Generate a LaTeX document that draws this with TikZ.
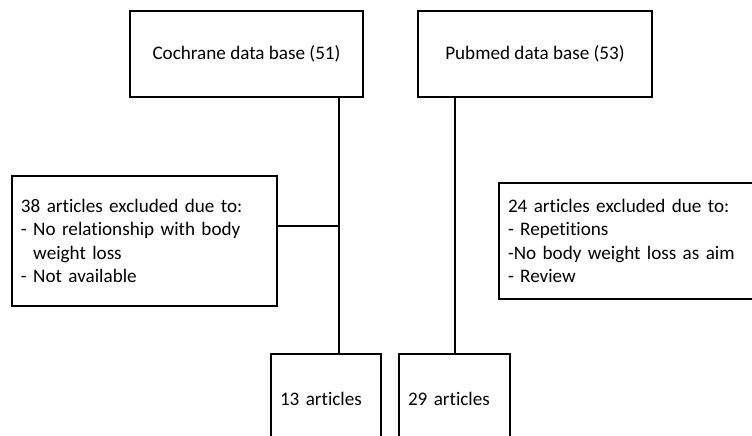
\documentclass[tikz,border=0pt]{standalone}
\usepackage{fontspec}
\setmainfont{Carlito}[Ligatures=NoCommon]
\usetikzlibrary{positioning,calc}
\begin{document}
\begin{tikzpicture}[x=1bp,y=-1bp,line width=1.5bp,
   box/.style={draw,rectangle,inner sep=0pt,font=\fontsize{19.2}{23.4}\selectfont},
   lbox/.style={box,align=left,inner xsep=9bp}]
  \useasboundingbox (0,0) rectangle (752,436);
  \clip (0,0) rectangle (752,436);
  % data bases
  \node[box,minimum width=233bp,minimum height=86bp](coch) at (246.5,54){Cochrane data base (51)};
  \node[box,minimum width=234bp,minimum height=86bp](pub) at (535,54){Pubmed data base (53)};
  % exclusions
  \node[lbox,minimum width=265bp,minimum height=130bp,text width=247bp](ex1) at (144.5,241){38 articles excluded due to:\\- No relationship with body\\\hphantom{- }weight loss\\- Not available};
  \node[lbox,minimum width=291bp,minimum height=116bp,text width=273bp](ex2) at (644.5,241){24 articles excluded due to:\\- Repetitions\\-No body weight loss as aim\\- Review};
  % results
  \node[lbox,minimum width=110bp,minimum height=90bp,text width=92bp](c13) at (326,399){13 articles};
  \node[lbox,minimum width=111bp,minimum height=90bp,text width=93bp](p29) at (454.5,399){29 articles};
  % connectors
  \coordinate (cj) at (339,226);
  \coordinate (pj) at (455,0);
  \draw (coch.south -| cj) -- (c13.north -| cj);
  \draw (ex1.east |- cj) -- (cj);
  \draw (pub.south -| pj) -- (p29.north -| pj);
\end{tikzpicture}
\end{document}
